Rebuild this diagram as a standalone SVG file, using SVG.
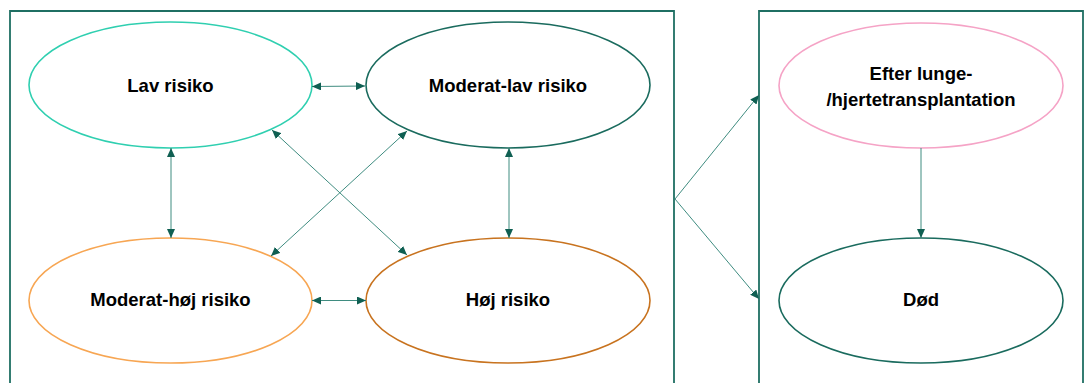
<svg xmlns="http://www.w3.org/2000/svg" width="1084" height="383" viewBox="0 0 1084 383">
<style>
.box{fill:none;stroke:#1f6f63;stroke-width:1.8}
.el{fill:#fff;stroke-width:1.6}
.lbl{font-family:"Liberation Sans",Arial,sans-serif;font-weight:bold;font-size:18.5px;fill:#000;text-anchor:middle}
.con{stroke:#3f8c80;stroke-width:1;fill:none}
</style>
<defs>
<marker id="ah" markerUnits="userSpaceOnUse" markerWidth="10" markerHeight="8" refX="9" refY="4" orient="auto-start-reverse">
<path d="M0,0 L9,4 L0,8 z" fill="#0f5f52"/>
</marker>
</defs>
<rect width="1084" height="383" fill="#fff"/>
<g id="boxes">
<path class="box" d="M10,383 V11 H674 V383"/>
<path class="box" d="M759,383 V11 H1083 V383"/>
</g>
<g id="lav"><ellipse class="el" cx="170.5" cy="85" rx="141.5" ry="63" stroke="#2fcfb0"/><text class="lbl" x="170.5" y="92">Lav risiko</text></g>
<g id="modlav"><ellipse class="el" cx="508" cy="85" rx="142" ry="63" stroke="#1a6b5e"/><text class="lbl" x="508" y="92">Moderat-lav risiko</text></g>
<g id="modhoj"><ellipse class="el" cx="170.5" cy="300.5" rx="141.5" ry="62.5" stroke="#f7a653"/><text class="lbl" x="170.5" y="306">Moderat-høj risiko</text></g>
<g id="hoj"><ellipse class="el" cx="508" cy="300.5" rx="142" ry="62.5" stroke="#c8731f"/><text class="lbl" x="508" y="306">Høj risiko</text></g>
<g id="efter"><ellipse class="el" cx="921" cy="85.5" rx="142" ry="62.5" stroke="#f5a3c6"/><text class="lbl" x="921" y="80">Efter lunge-</text><text class="lbl" x="921" y="106">/hjertetransplantation</text></g>
<g id="dod"><ellipse class="el" cx="921" cy="300.5" rx="142" ry="62.5" stroke="#1a6b5e"/><text class="lbl" x="921" y="306">Død</text></g>
<g id="connectors">
<line class="con" x1="312" y1="86.5" x2="365" y2="86" marker-start="url(#ah)" marker-end="url(#ah)"/>
<line class="con" x1="312" y1="300.5" x2="366" y2="300.5" marker-start="url(#ah)" marker-end="url(#ah)"/>
<line class="con" x1="171" y1="148" x2="171" y2="238" marker-start="url(#ah)" marker-end="url(#ah)"/>
<line class="con" x1="509" y1="148" x2="509" y2="238" marker-start="url(#ah)" marker-end="url(#ah)"/>
<line class="con" x1="272" y1="130" x2="407" y2="255" marker-start="url(#ah)" marker-end="url(#ah)"/>
<line class="con" x1="407" y1="131" x2="271" y2="256" marker-start="url(#ah)" marker-end="url(#ah)"/>
<line class="con" x1="675" y1="199" x2="759" y2="95" marker-end="url(#ah)"/>
<line class="con" x1="675" y1="199" x2="759" y2="299" marker-end="url(#ah)"/>
<line class="con" x1="921" y1="148" x2="921" y2="238" marker-end="url(#ah)"/>
</g>
</svg>
